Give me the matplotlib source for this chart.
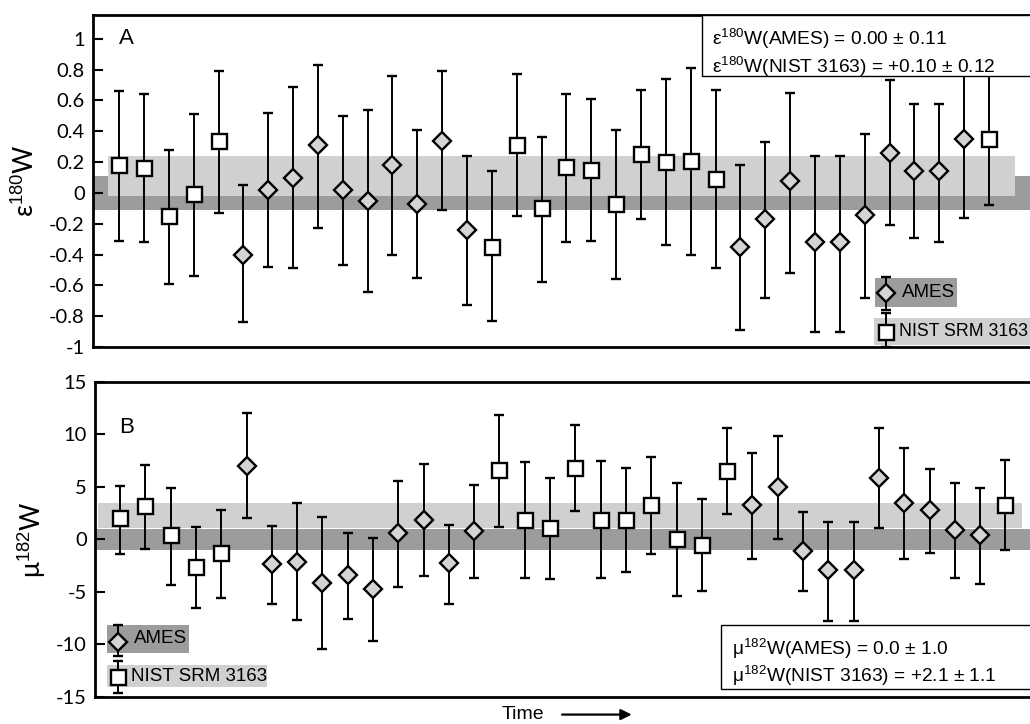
import numpy as np
import matplotlib
matplotlib.use("Agg")
import matplotlib.pyplot as plt
from matplotlib.patches import Rectangle

plt.rcParams["font.family"] = ["Liberation Sans", "DejaVu Sans"]
plt.rcParams["mathtext.fontset"] = "custom"
plt.rcParams["mathtext.rm"] = "Liberation Sans"
plt.rcParams["axes.unicode_minus"] = False

DARK = "#9c9c9c"
LIGHT = "#d0d0d0"
FACE = "#d4d4d4"

# run order (index along time axis)
ames_idx = [5, 6, 7, 8, 9, 10, 11, 12, 13, 14, 25, 26, 27, 28, 29, 30, 31, 32, 33, 34]
nist_idx = [0, 1, 2, 3, 4, 15, 16, 17, 18, 19, 20, 21, 22, 23, 24, 35]

# panel A: e180W, value / lower end / upper end of 2SD bar
a_ames = [-0.40, 0.02, 0.10, 0.31, 0.02, -0.05, 0.18, -0.07, 0.34, -0.24,
          -0.35, -0.17, 0.08, -0.32, -0.32, -0.14, 0.26, 0.14, 0.14, 0.35]
a_ames_lo = [-0.84, -0.48, -0.49, -0.23, -0.47, -0.64, -0.40, -0.55, -0.11, -0.73,
             -0.89, -0.68, -0.52, -0.90, -0.90, -0.68, -0.21, -0.29, -0.32, -0.16]
a_ames_hi = [0.05, 0.52, 0.69, 0.83, 0.50, 0.54, 0.76, 0.41, 0.79, 0.24,
             0.18, 0.33, 0.65, 0.24, 0.24, 0.38, 0.73, 0.58, 0.58, 0.85]
a_nist = [0.18, 0.16, -0.15, -0.01, 0.34, -0.35, 0.31, -0.10, 0.17, 0.15,
          -0.07, 0.25, 0.20, 0.21, 0.09, 0.35]
a_nist_lo = [-0.31, -0.32, -0.59, -0.54, -0.13, -0.83, -0.15, -0.58, -0.32, -0.31,
             -0.56, -0.17, -0.34, -0.40, -0.49, -0.08]
a_nist_hi = [0.66, 0.64, 0.28, 0.51, 0.79, 0.14, 0.77, 0.36, 0.64, 0.61,
             0.41, 0.67, 0.74, 0.81, 0.67, 0.80]

# panel B: u182W
b_ames = [7.0, -2.3, -2.1, -4.1, -3.4, -4.7, 0.6, 1.9, -2.2, 0.8,
          3.3, 5.0, -1.1, -2.9, -2.9, 5.9, 3.5, 2.8, 0.9, 0.4]
b_ames_lo = [2.0, -6.1, -7.7, -10.4, -7.6, -9.7, -4.5, -3.5, -6.1, -3.7,
             -1.9, 0.0, -4.9, -7.8, -7.8, 1.1, -1.9, -1.3, -3.7, -4.2]
b_ames_hi = [12.0, 1.3, 3.5, 2.1, 0.6, 0.1, 5.6, 7.2, 1.4, 5.2,
             8.2, 9.9, 2.6, 1.7, 1.7, 10.6, 8.7, 6.7, 5.4, 4.9]
b_nist = [2.0, 3.2, 0.4, -2.6, -1.3, 6.6, 1.9, 1.1, 6.8, 1.9,
          1.9, 3.3, 0.0, -0.5, 6.5, 3.3]
b_nist_lo = [-1.4, -0.9, -4.3, -6.5, -5.6, 1.2, -3.7, -3.8, 2.7, -3.7,
             -3.1, -1.4, -5.4, -4.9, 2.4, -1.0]
b_nist_hi = [5.1, 7.1, 4.9, 1.2, 2.8, 11.9, 7.4, 5.9, 10.9, 7.5,
             6.8, 7.9, 5.4, 3.9, 10.6, 7.6]

# reproducibility bands as drawn: (centre, half-width)
a_band_ames = (0.00, 0.11)
a_band_nist = (0.11, 0.13)
b_band_ames = (0.0, 1.0)
b_band_nist = (2.3, 1.2)


def yerr(v, lo, hi):
    v = np.asarray(v); return [v - np.asarray(lo), np.asarray(hi) - v]


def points(ax, x, v, lo, hi, marker, face, ms):
    ax.errorbar(x, v, yerr=yerr(v, lo, hi), fmt=marker, ms=ms, mfc=face, mec="black",
                mew=1.7, ecolor="black", elinewidth=1.4, capsize=3.3, capthick=1.4, zorder=3)


def style(ax):
    for s in ["left", "top", "bottom"]:
        ax.spines[s].set_linewidth(2.0)
    ax.spines["right"].set_visible(False)
    ax.tick_params(axis="y", direction="in", length=7, width=1.5, labelsize=14.5, pad=6)
    ax.tick_params(axis="x", bottom=False, labelbottom=False)
    for t in ax.get_yticklabels():
        t.set_family("Lato")


fig = plt.figure(figsize=(10.3, 7.24), dpi=100)
axA = fig.add_axes([0.0903, 0.5207, 0.9097, 0.4586])
axB = fig.add_axes([0.0922, 0.0373, 0.9078, 0.4351])

# ---------------- panel A ----------------
axA.set_xlim(-1.05, 36.65)
axA.set_ylim(-1, 1.155)
m, s = a_band_ames
axA.axhspan(m - s, m + s, color=DARK, lw=0, zorder=0)
m, s = a_band_nist
axA.axhspan(m - s, m + s, xmin=0.016, xmax=0.984, color=LIGHT, lw=0, zorder=0.5)
points(axA, nist_idx, a_nist, a_nist_lo, a_nist_hi, "s", "white", 10.8)
points(axA, ames_idx, a_ames, a_ames_lo, a_ames_hi, "D", FACE, 9.0)
axA.set_yticks(np.round(np.arange(-1, 1.01, 0.2), 1))
axA.set_yticklabels(["-1", "-0.8", "-0.6", "-0.4", "-0.2", "0", "0.2", "0.4", "0.6", "0.8", "1"])
axA.set_ylabel("ε$^{180}$W", fontsize=19, family="Lato")
axA.yaxis.set_label_coords(-0.058, 0.5)
style(axA)
axA.text(0.028, 0.93, "A", transform=axA.transAxes, fontsize=16, va="center")

# stats box
axA.add_patch(Rectangle((0.65, 0.816), 0.36, 0.184, transform=axA.transAxes, fc="white",
                        ec="black", lw=1.0, zorder=5, clip_on=False))
axA.text(0.661, 0.93, "ε$^{180}$W(AMES) = 0.00 ± 0.11", transform=axA.transAxes,
         fontsize=13.8, va="center", zorder=6)
axA.text(0.661, 0.846, "ε$^{180}$W(NIST 3163) = +0.10 ± 0.12", transform=axA.transAxes,
         fontsize=13.8, va="center", zorder=6)

# legend
axA.add_patch(Rectangle((0.8346, 0.1205), 0.0875, 0.0873, transform=axA.transAxes,
                        fc=DARK, lw=0, zorder=2))
axA.add_patch(Rectangle((0.8335, 0.006), 0.17, 0.081, transform=axA.transAxes,
                        fc=LIGHT, lw=0, zorder=2))
points(axA, [30.85], [-0.65], [-0.76], [-0.545], "D", FACE, 9.0)
points(axA, [30.85], [-0.90], [-1.0], [-0.78], "s", "white", 10.8)
axA.text(0.8635, 0.163, "AMES", transform=axA.transAxes, fontsize=13.5, va="center", zorder=4)
axA.text(0.860, 0.046, "NIST SRM 3163", transform=axA.transAxes, fontsize=12.8,
         va="center", zorder=4)

# ---------------- panel B ----------------
axB.set_xlim(-0.99, 35.97)
axB.set_ylim(-15, 15)
m, s = b_band_nist
axB.axhspan(m - s, m + s, xmin=0.003, xmax=0.991, color=LIGHT, lw=0, zorder=0.5)
m, s = b_band_ames
axB.axhspan(m - s, m + s, color=DARK, lw=0, zorder=0.6)
points(axB, nist_idx, b_nist, b_nist_lo, b_nist_hi, "s", "white", 10.8)
points(axB, ames_idx, b_ames, b_ames_lo, b_ames_hi, "D", FACE, 9.0)
axB.set_yticks(np.arange(-15, 16, 5))
axB.set_ylabel("μ$^{182}$W", fontsize=19, family="Lato")
axB.yaxis.set_label_coords(-0.05, 0.5)
style(axB)
axB.text(0.026, 0.855, "B", transform=axB.transAxes, fontsize=16, va="center")

axB.add_patch(Rectangle((0.6695, 0.025), 0.34, 0.2036, transform=axB.transAxes, fc="white",
                        ec="black", lw=1.0, zorder=5, clip_on=False))
axB.text(0.681, 0.155, "μ$^{182}$W(AMES) = 0.0 ± 1.0", transform=axB.transAxes,
         fontsize=13.8, va="center", zorder=6)
axB.text(0.681, 0.067, "μ$^{182}$W(NIST 3163) = +2.1 ± 1.1", transform=axB.transAxes,
         fontsize=13.8, va="center", zorder=6)

axB.add_patch(Rectangle((0.0128, 0.1397), 0.0877, 0.0889, transform=axB.transAxes,
                        fc=DARK, lw=0, zorder=2))
axB.add_patch(Rectangle((0.0128, 0.0317), 0.1712, 0.0699, transform=axB.transAxes,
                        fc=LIGHT, lw=0, zorder=2))
points(axB, [-0.08], [-9.8], [-11.05], [-8.15], "D", FACE, 9.0)
points(axB, [-0.08], [-13.1], [-14.6], [-11.6], "s", "white", 10.8)
axB.text(0.042, 0.185, "AMES", transform=axB.transAxes, fontsize=13.5, va="center", zorder=4)
axB.text(0.0385, 0.0665, "NIST SRM 3163", transform=axB.transAxes, fontsize=13.5,
         va="center", zorder=4)

# time axis label
fig.text(0.487, 0.013, "Time", fontsize=14, va="center")
fig.add_artist(matplotlib.patches.FancyArrowPatch((0.543, 0.013), (0.616, 0.013),
                                                  transform=fig.transFigure, arrowstyle="-|>",
                                                  mutation_scale=16, lw=1.6, color="black"))

fig.savefig("out.png", dpi=100, facecolor="white")
